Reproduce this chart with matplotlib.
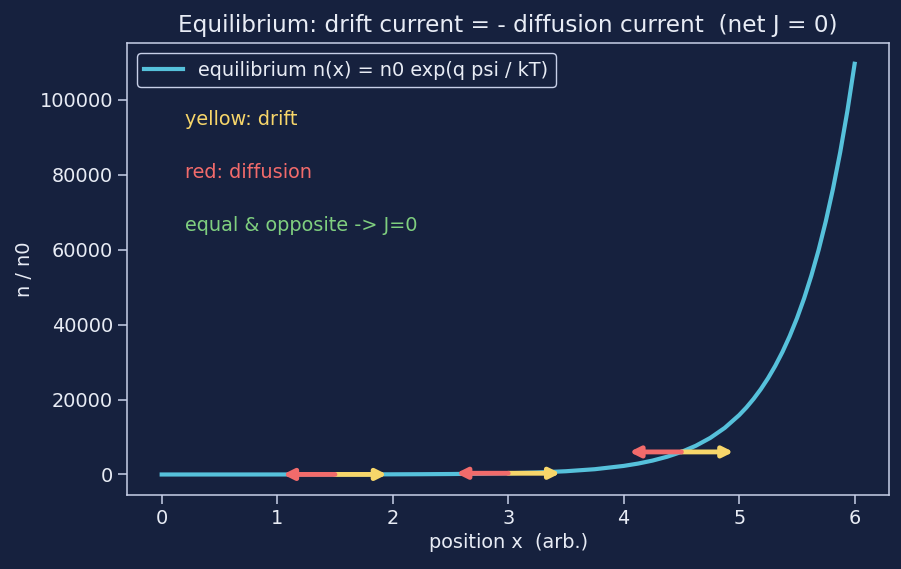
import matplotlib
matplotlib.use("Agg")
import matplotlib.pyplot as plt

# equilibrium carrier profile
x_pos = [0.0, 0.25, 0.5, 0.75, 1.0, 1.25, 1.5, 1.75, 2.0, 2.25, 2.5, 2.75, 3.0,
         3.25, 3.5, 3.75, 4.0, 4.125, 4.25, 4.375, 4.5, 4.625, 4.75, 4.875,
         5.0, 5.0625, 5.125, 5.1875, 5.25, 5.3125, 5.375, 5.4375, 5.5, 5.5625,
         5.625, 5.6875, 5.75, 5.8125, 5.875, 5.9375, 6.0]
n_ratio = [1, 1.62, 2.63, 4.27, 6.92, 11.2, 18.2, 29.5, 47.9, 77.6, 126, 204, 331,
           537, 870, 1411, 2289, 2916, 3712, 4728, 6021, 7669, 9765, 12430,
           15840, 17870, 20170, 22760, 25680, 28980, 32700, 36910, 41650, 47000,
           53050, 59850, 67540, 76220, 86000, 97060, 109600]

# arrow anchors (x, n) and half-length
arrow_x = [1.5, 3.0, 4.5]
arrow_n = [18, 331, 6021]
arrow_len = 0.45

notes = ["yellow: drift", "red: diffusion", "equal & opposite -> J=0"]
note_y = [94700, 80500, 66400]

bg = "#16213e"
fg = "#e8ecf5"
c_curve = "#56c1db"
c_drift = "#f7d66a"
c_diff = "#f26b6b"
c_eq = "#7fcf7f"
c_spine = "#c8d0e8"

fs = 13.9

fig, ax = plt.subplots(figsize=(9.01, 5.69), dpi=100)
fig.patch.set_facecolor(bg)
ax.set_facecolor(bg)

ax.plot(x_pos, n_ratio, color=c_curve, lw=3.0,
        label="equilibrium n(x) = n0 exp(q psi / kT)")

for x0, y0 in zip(arrow_x, arrow_n):
    ax.annotate("", xy=(x0 + arrow_len, y0), xytext=(x0, y0),
                arrowprops=dict(arrowstyle="-|>", color=c_drift, lw=3.5,
                                mutation_scale=15, shrinkA=0, shrinkB=0))
    ax.annotate("", xy=(x0 - arrow_len, y0), xytext=(x0, y0),
                arrowprops=dict(arrowstyle="-|>", color=c_diff, lw=3.5,
                                mutation_scale=15, shrinkA=0, shrinkB=0))

for txt, yy, col in zip(notes, note_y, [c_drift, c_diff, c_eq]):
    ax.text(0.2, yy, txt, color=col, fontsize=fs, va="center")

ax.set_title("Equilibrium: drift current = - diffusion current  (net J = 0)",
             color=fg, fontsize=16.7, pad=8)
ax.set_xlabel("position x  (arb.)", color=fg, fontsize=fs)
ax.set_ylabel("n / n0", color=fg, fontsize=fs)
ax.tick_params(colors=c_spine, labelcolor=fg, labelsize=fs, length=6.5, width=1.1)
for s in ax.spines.values():
    s.set_color(c_spine)
    s.set_linewidth(1.1)

leg = ax.legend(loc="upper left", fontsize=fs, facecolor=bg,
                edgecolor=c_spine, framealpha=1)
for t in leg.get_texts():
    t.set_color(fg)

fig.subplots_adjust(left=0.141, right=0.987, top=0.924, bottom=0.130)
fig.savefig("out.png", dpi=100, facecolor=bg)
